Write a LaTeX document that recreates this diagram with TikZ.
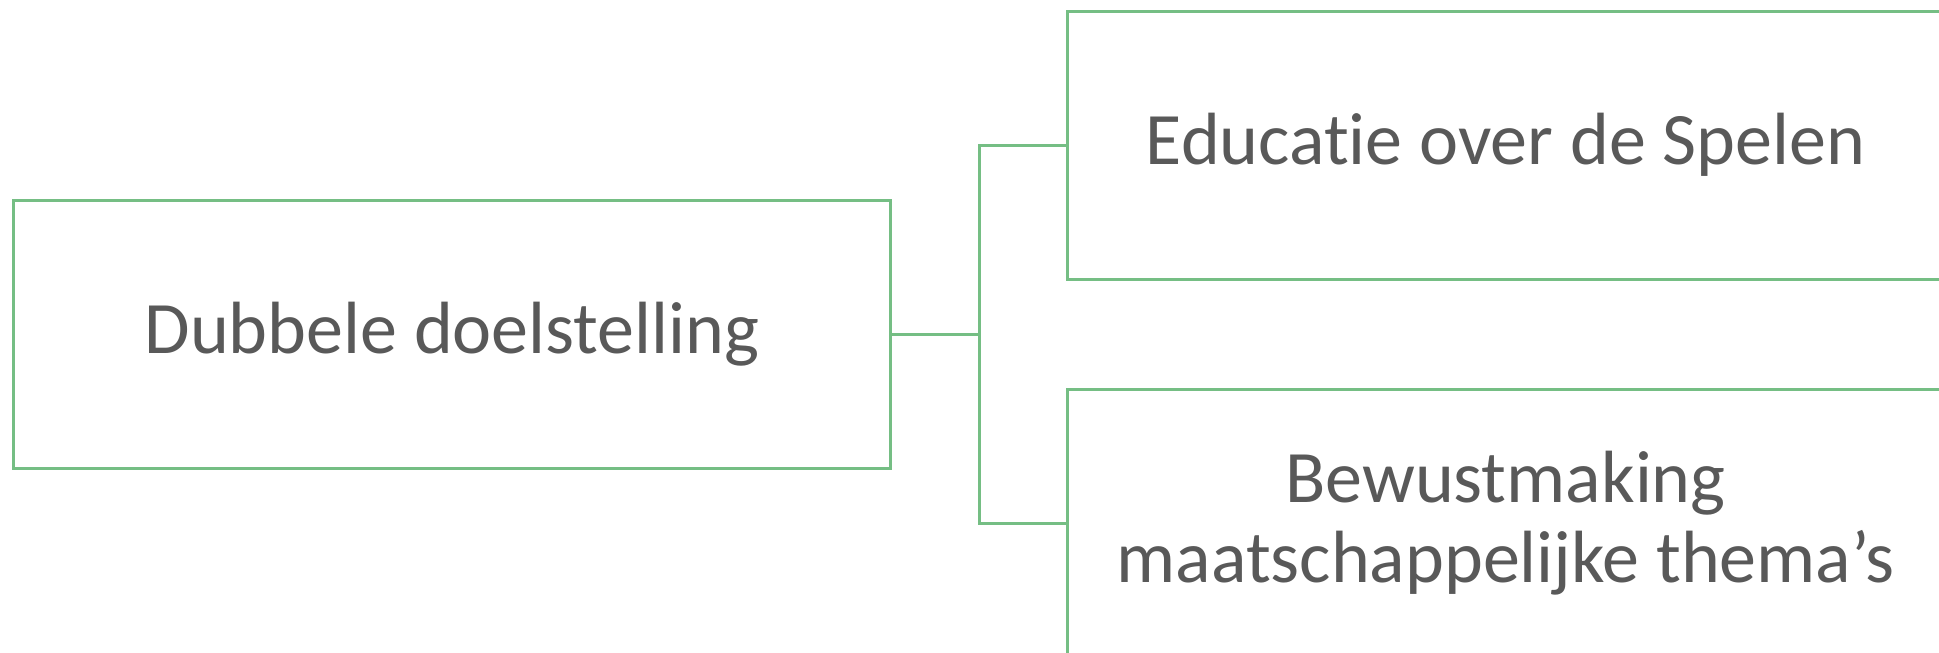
\documentclass[tikz,border=0pt]{standalone}
\usepackage{fontspec}
\setmainfont{Carlito}[Ligatures={NoCommon,TeX}]
\definecolor{edgegreen}{RGB}{117,190,132}
\definecolor{txtgray}{RGB}{89,89,89}
\begin{document}
\begin{tikzpicture}[x=1pt,y=-1pt,
  box/.style={draw=edgegreen, line width=3pt, minimum width=877pt, minimum height=268pt,
    inner sep=0pt, text=txtgray, font=\fontsize{74}{80}\selectfont, align=center},
  conn/.style={draw=edgegreen, line width=3pt}]
\useasboundingbox (0,0) rectangle (1939,653);
\fill[white] (0,0) rectangle (1939,653);
\begin{scope}
\clip (0,0) rectangle (1939,653);
\node[box] (root) at (452,334) {Dubbele doelstelling};
\node[box] (top) at (1505.5,145) {Educatie over de Spelen};
\node[box] (bot) at (1505.5,523) {Bewustmaking\\maatschappelijke thema’s};
\coordinate (j) at (979,334);
\draw[conn] (root.east) -- (j) |- (top.west);
\draw[conn] (j) |- (bot.west);
\end{scope}
\end{tikzpicture}
\end{document}
